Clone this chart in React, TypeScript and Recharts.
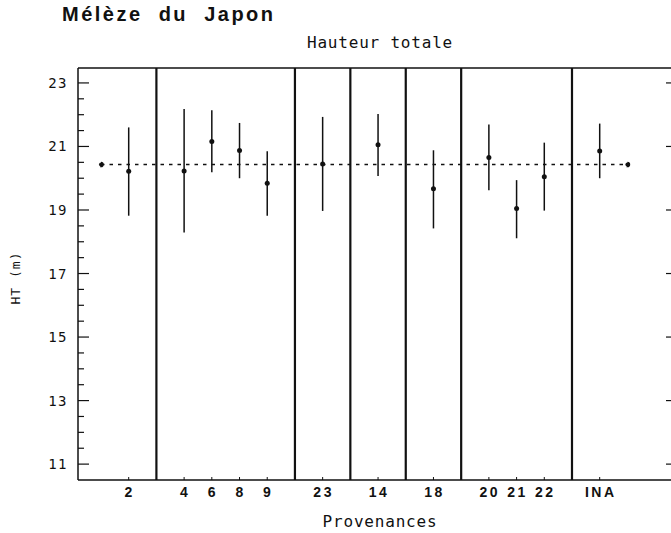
import React from "react";
import {
  ComposedChart,
  XAxis,
  YAxis,
  Scatter,
  ErrorBar,
  Line,
  ReferenceLine,
} from "recharts";

// Provenances, grouped as in the figure (a vertical rule separates groups)
const groups: string[][] = [["2"], ["4", "6", "8", "9"], ["23"], ["14"], ["18"], ["20", "21", "22"], ["INA"]];

// Hauteur totale (m): mean and interval bounds, per provenance in order
const means = [20.22, 20.23, 21.16, 20.87, 19.84, 20.45, 21.05, 19.67, 20.65, 19.05, 20.05, 20.86];
const lows = [18.82, 18.29, 20.19, 20.0, 18.82, 18.97, 20.07, 18.42, 19.62, 18.11, 18.98, 20.0];
const highs = [21.6, 22.18, 22.14, 21.74, 20.85, 21.93, 22.02, 20.88, 21.69, 19.94, 21.12, 21.72];
const overallMean = 20.43;

const yLabels = [11, 13, 15, 17, 19, 21, 23];
const yMin = 10.5;
const yMax = 23.47;

// slot index of each provenance along the x axis, and of each separator
const categories: string[] = [];
const slots: number[] = [];
const breaks: number[] = [];
let s = 0;
groups.forEach((g, gi) => {
  if (gi > 0) {
    breaks.push(s);
    s++;
  }
  g.forEach((c) => {
    categories.push(c);
    slots.push(s);
    s++;
  });
});
const lastSlot = s;

const points = categories.map((c, i) => ({
  x: slots[i],
  y: means[i],
  err: [means[i] - lows[i], highs[i] - means[i]],
  name: c,
}));
const meanLine = [
  { x: -1, y: overallMean },
  { x: lastSlot, y: overallMean },
];

// minor ticks every half unit on the left axis
const leftTicks: number[] = [];
for (let v = yLabels[0]; v <= yLabels[yLabels.length - 1]; v += 0.5) leftTicks.push(v);

const MONO = "'DejaVu Sans Mono', monospace";
const INK = "#111";

function LeftTick(props: any) {
  const { x, y, payload } = props;
  const v = payload.value;
  const major = yLabels.includes(v);
  const ax = x + 10;
  return (
    <g>
      <line x1={ax} x2={ax + (major ? 11 : 6)} y1={y} y2={y} stroke={INK} strokeWidth={1.2} />
      {major && (
        <text x={x} y={y + 5} textAnchor="end" fontFamily={MONO} fontSize={14} letterSpacing={1.5} fill={INK}>
          {v}
        </text>
      )}
    </g>
  );
}

function RightTick(props: any) {
  const { x, y } = props;
  return <line x1={x - 11} x2={x} y1={y} y2={y} stroke={INK} strokeWidth={1.2} />;
}

function BottomTick(props: any) {
  const { x, y, payload } = props;
  const i = slots.indexOf(payload.value);
  return (
    <g>
      <line x1={x} x2={x} y1={y} y2={y - 3} stroke={INK} strokeWidth={1} />
      <text
        x={x + 1}
        y={y + 17}
        textAnchor="middle"
        fontFamily="'Liberation Sans', Arial, sans-serif"
        fontWeight="bold"
        fontSize={14}
        letterSpacing={2.5}
        fill={INK}
      >
        {categories[i]}
      </text>
    </g>
  );
}

const dotShape = (p: any) => <circle cx={p.cx} cy={p.cy} r={2.5} fill={INK} />;

export default function App() {
  return (
    <div style={{ position: "absolute", left: 0, top: 0, width: 671, height: 533, overflow: "hidden", background: "#fff" }}>
      <ComposedChart width={700} height={533} margin={{ top: 68, right: 0, bottom: 0, left: 0 }}>
        <XAxis
          dataKey="x"
          type="number"
          domain={[-1.83, 19.79]}
          ticks={slots}
          allowDataOverflow
          height={53}
          tickSize={0}
          tickMargin={0}
          tickLine={false}
          axisLine={{ stroke: INK, strokeWidth: 1.5 }}
          tick={<BottomTick />}
          interval={0}
        />
        <YAxis
          yAxisId="left"
          type="number"
          domain={[yMin, yMax]}
          ticks={leftTicks}
          allowDataOverflow
          width={78}
          tickSize={0}
          tickMargin={10}
          tickLine={false}
          axisLine={{ stroke: INK, strokeWidth: 1.5 }}
          tick={<LeftTick />}
          interval={0}
        />
        <YAxis
          yAxisId="right"
          orientation="right"
          type="number"
          domain={[yMin, yMax]}
          ticks={yLabels}
          allowDataOverflow
          width={23}
          tickSize={0}
          tickMargin={0}
          tickLine={false}
          axisLine={{ stroke: INK, strokeWidth: 1.5 }}
          tick={<RightTick />}
          interval={0}
        />
        <ReferenceLine yAxisId="left" y={yMax} stroke={INK} strokeWidth={1.5} ifOverflow="visible" />
        {breaks.map((b) => (
          <ReferenceLine key={b} yAxisId="left" x={b} stroke={INK} strokeWidth={2.2} />
        ))}
        <Line
          yAxisId="left"
          data={meanLine}
          dataKey="y"
          stroke={INK}
          strokeWidth={1.6}
          strokeDasharray="3.5 5"
          dot={{ r: 2, fill: INK, stroke: INK }}
          isAnimationActive={false}
        />
        <Scatter yAxisId="left" data={points} dataKey="y" shape={dotShape} isAnimationActive={false}>
          <ErrorBar dataKey="err" direction="y" width={0} stroke={INK} strokeWidth={1.5} isAnimationActive={false} />
        </Scatter>
      </ComposedChart>
      <svg width={671} height={533} style={{ position: "absolute", left: 0, top: 0, pointerEvents: "none" }}>
        <text x={62} y={21} fontFamily="'Liberation Sans', Arial, sans-serif" fontWeight="bold" fontSize={20} letterSpacing={2.5} wordSpacing={8} fill={INK}>
          Mélèze du Japon
        </text>
        <text x={380} y={48} textAnchor="middle" fontFamily={MONO} fontSize={16} letterSpacing={0.8} fill={INK}>
          Hauteur totale
        </text>
        <text x={380} y={527} textAnchor="middle" fontFamily={MONO} fontSize={16} letterSpacing={0.8} fill={INK}>
          Provenances
        </text>
        <text x={15} y={278} transform="rotate(-90 15 278)" textAnchor="middle" dominantBaseline="central" fontFamily={MONO} fontSize={13} letterSpacing={1} fill={INK}>
          HT (m)
        </text>
      </svg>
    </div>
  );
}
